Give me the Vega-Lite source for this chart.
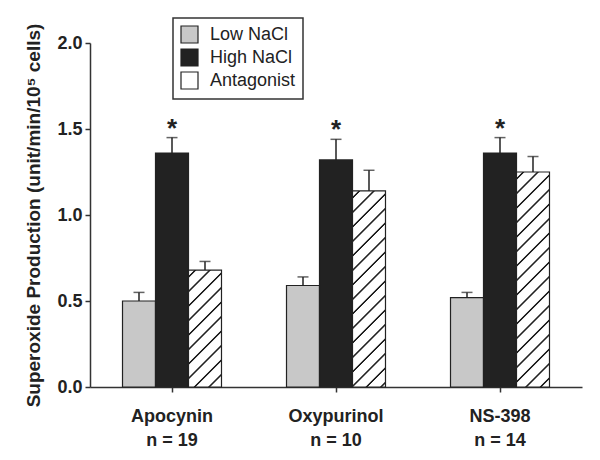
{
  "$schema": "https://vega.github.io/schema/vega-lite/v6.json",
  "width": 492,
  "height": 344,
  "autosize": {"type": "none"},
  "padding": {"left": 90, "top": 43, "right": 18, "bottom": 73},
  "background": "white",
  "config": {
    "view": {"stroke": null},
    "font": "Liberation Sans",
    "axis": {"domainColor": "#333", "domainWidth": 1.5, "tickColor": "#333", "tickWidth": 1.5, "tickSize": 5, "labelFont": "Liberation Sans", "labelFontWeight": "bold", "labelFontSize": 18, "labelColor": "#222", "titleFont": "Liberation Sans", "titleFontWeight": "bold", "titleFontSize": 19, "titleColor": "#222", "grid": false}
  },
  "data": {
    "values": [
      {"group": "Apocynin|n = 19", "cond": "Low NaCl", "mean": 0.50, "hi": 0.55, "star": ""},
      {"group": "Apocynin|n = 19", "cond": "High NaCl", "mean": 1.36, "hi": 1.45, "star": "*"},
      {"group": "Apocynin|n = 19", "cond": "Antagonist", "mean": 0.68, "hi": 0.73, "star": ""},
      {"group": "Oxypurinol|n = 10", "cond": "Low NaCl", "mean": 0.59, "hi": 0.64, "star": ""},
      {"group": "Oxypurinol|n = 10", "cond": "High NaCl", "mean": 1.32, "hi": 1.44, "star": "*"},
      {"group": "Oxypurinol|n = 10", "cond": "Antagonist", "mean": 1.14, "hi": 1.26, "star": ""},
      {"group": "NS-398|n = 14", "cond": "Low NaCl", "mean": 0.52, "hi": 0.55, "star": ""},
      {"group": "NS-398|n = 14", "cond": "High NaCl", "mean": 1.36, "hi": 1.45, "star": "*"},
      {"group": "NS-398|n = 14", "cond": "Antagonist", "mean": 1.25, "hi": 1.34, "star": ""}
    ]
  },
  "encoding": {
    "x": {
      "field": "group", "type": "nominal", "sort": null,
      "scale": {"paddingInner": 0, "paddingOuter": 0},
      "axis": {"title": null, "labelAngle": 0, "labelExpr": "split(datum.label, '|')", "labelLineHeight": 24, "labelPadding": 15, "labelBaseline": "top"}
    },
    "xOffset": {
      "field": "cond", "type": "nominal",
      "scale": {"domain": ["Low NaCl", "High NaCl", "Antagonist"], "paddingInner": 0, "paddingOuter": 0.985}
    }
  },
  "layer": [
    {
      "mark": {"type": "bar", "stroke": "#222", "strokeWidth": 1.2},
      "encoding": {
        "y": {
          "field": "mean", "type": "quantitative",
          "scale": {"domain": [0, 2], "nice": false},
          "axis": {"title": "Superoxide Production (unit/min/10⁵ cells)", "values": [0, 0.5, 1, 1.5, 2], "format": ".1f", "labelPadding": 3, "titlePadding": 13}
        },
        "fill": {
          "field": "cond", "type": "nominal",
          "scale": {"domain": ["Low NaCl", "High NaCl", "Antagonist"], "range": ["#c8c8c8", "#222222", "#ffffff"]},
          "legend": {
            "title": null, "orient": "none", "legendX": 83, "legendY": -25,
            "symbolType": "square", "symbolSize": 289, "symbolStrokeColor": "#222", "symbolStrokeWidth": 1.2,
            "labelFont": "Liberation Sans", "labelFontSize": 18, "labelColor": "#222", "labelOffset": 11,
            "rowPadding": 0, "padding": 7, "strokeColor": "#333",
            "encode": {
              "legend": {"update": {"strokeWidth": {"value": 1.5}}},
              "symbols": {"update": {
                "stroke": {"value": "#222"},
                "strokeWidth": {"value": 1.2},
                "fill": {
                  "condition": {"test": "datum.value === 'Antagonist'", "value": {"gradient": "linear", "x1": 0, "y1": 0, "x2": 1, "y2": 1, "stops": [
                    {"offset": 0.27, "color": "#ffffff"}, {"offset": 0.295, "color": "#111111"}, {"offset": 0.365, "color": "#111111"}, {"offset": 0.39, "color": "#ffffff"},
                    {"offset": 0.61, "color": "#ffffff"}, {"offset": 0.635, "color": "#111111"}, {"offset": 0.705, "color": "#111111"}, {"offset": 0.73, "color": "#ffffff"}
                  ]}},
                  "value": {"expr": "scale('fill', datum.value)"}
                }
              }}
            }
          },
          "condition": [
            {"test": "datum.cond === 'Antagonist' && datum.group === 'Apocynin|n = 19'", "value": {"gradient": "linear", "x1": 0, "y1": 0, "x2": 0.33508, "y2": 1.1876, "stops": [
              {"offset": 0.036, "color": "#ffffff"}, {"offset": 0.04267, "color": "#222222"}, {"offset": 0.05067, "color": "#222222"}, {"offset": 0.05733, "color": "#ffffff"},
              {"offset": 0.13267, "color": "#ffffff"}, {"offset": 0.13933, "color": "#222222"}, {"offset": 0.14733, "color": "#222222"}, {"offset": 0.154, "color": "#ffffff"},
              {"offset": 0.22933, "color": "#ffffff"}, {"offset": 0.236, "color": "#222222"}, {"offset": 0.244, "color": "#222222"}, {"offset": 0.25067, "color": "#ffffff"},
              {"offset": 0.326, "color": "#ffffff"}, {"offset": 0.33267, "color": "#222222"}, {"offset": 0.34067, "color": "#222222"}, {"offset": 0.34733, "color": "#ffffff"},
              {"offset": 0.42267, "color": "#ffffff"}, {"offset": 0.42933, "color": "#222222"}, {"offset": 0.43733, "color": "#222222"}, {"offset": 0.444, "color": "#ffffff"},
              {"offset": 0.51933, "color": "#ffffff"}, {"offset": 0.526, "color": "#222222"}, {"offset": 0.534, "color": "#222222"}, {"offset": 0.54067, "color": "#ffffff"},
              {"offset": 0.616, "color": "#ffffff"}, {"offset": 0.62267, "color": "#222222"}, {"offset": 0.63067, "color": "#222222"}, {"offset": 0.63733, "color": "#ffffff"},
              {"offset": 0.71267, "color": "#ffffff"}, {"offset": 0.71933, "color": "#222222"}, {"offset": 0.72733, "color": "#222222"}, {"offset": 0.734, "color": "#ffffff"},
              {"offset": 0.80933, "color": "#ffffff"}, {"offset": 0.816, "color": "#222222"}, {"offset": 0.824, "color": "#222222"}, {"offset": 0.83067, "color": "#ffffff"},
              {"offset": 0.906, "color": "#ffffff"}, {"offset": 0.91267, "color": "#222222"}, {"offset": 0.92067, "color": "#222222"}, {"offset": 0.92733, "color": "#ffffff"}
            ]}},
            {"test": "datum.cond === 'Antagonist' && datum.group === 'Oxypurinol|n = 10'", "value": {"gradient": "linear", "x1": 0, "y1": 0, "x2": 0.19121, "y2": 1.13613, "stops": [
              {"offset": 0.02357, "color": "#ffffff"}, {"offset": 0.02794, "color": "#222222"}, {"offset": 0.03318, "color": "#222222"}, {"offset": 0.03754, "color": "#ffffff"},
              {"offset": 0.08687, "color": "#ffffff"}, {"offset": 0.09123, "color": "#222222"}, {"offset": 0.09647, "color": "#222222"}, {"offset": 0.10084, "color": "#ffffff"},
              {"offset": 0.15016, "color": "#ffffff"}, {"offset": 0.15453, "color": "#222222"}, {"offset": 0.15977, "color": "#222222"}, {"offset": 0.16413, "color": "#ffffff"},
              {"offset": 0.21346, "color": "#ffffff"}, {"offset": 0.21783, "color": "#222222"}, {"offset": 0.22307, "color": "#222222"}, {"offset": 0.22743, "color": "#ffffff"},
              {"offset": 0.27676, "color": "#ffffff"}, {"offset": 0.28112, "color": "#222222"}, {"offset": 0.28636, "color": "#222222"}, {"offset": 0.29073, "color": "#ffffff"},
              {"offset": 0.34006, "color": "#ffffff"}, {"offset": 0.34442, "color": "#222222"}, {"offset": 0.34966, "color": "#222222"}, {"offset": 0.35403, "color": "#ffffff"},
              {"offset": 0.40335, "color": "#ffffff"}, {"offset": 0.40772, "color": "#222222"}, {"offset": 0.41296, "color": "#222222"}, {"offset": 0.41732, "color": "#ffffff"},
              {"offset": 0.46665, "color": "#ffffff"}, {"offset": 0.47101, "color": "#222222"}, {"offset": 0.47625, "color": "#222222"}, {"offset": 0.48062, "color": "#ffffff"},
              {"offset": 0.52995, "color": "#ffffff"}, {"offset": 0.53431, "color": "#222222"}, {"offset": 0.53955, "color": "#222222"}, {"offset": 0.54392, "color": "#ffffff"},
              {"offset": 0.59324, "color": "#ffffff"}, {"offset": 0.59761, "color": "#222222"}, {"offset": 0.60285, "color": "#222222"}, {"offset": 0.60721, "color": "#ffffff"},
              {"offset": 0.65654, "color": "#ffffff"}, {"offset": 0.6609, "color": "#222222"}, {"offset": 0.66614, "color": "#222222"}, {"offset": 0.67051, "color": "#ffffff"},
              {"offset": 0.71984, "color": "#ffffff"}, {"offset": 0.7242, "color": "#222222"}, {"offset": 0.72944, "color": "#222222"}, {"offset": 0.7338, "color": "#ffffff"},
              {"offset": 0.78313, "color": "#ffffff"}, {"offset": 0.7875, "color": "#222222"}, {"offset": 0.79274, "color": "#222222"}, {"offset": 0.7971, "color": "#ffffff"},
              {"offset": 0.84643, "color": "#ffffff"}, {"offset": 0.85079, "color": "#222222"}, {"offset": 0.85603, "color": "#222222"}, {"offset": 0.8604, "color": "#ffffff"},
              {"offset": 0.90973, "color": "#ffffff"}, {"offset": 0.91409, "color": "#222222"}, {"offset": 0.91933, "color": "#222222"}, {"offset": 0.9237, "color": "#ffffff"},
              {"offset": 0.97302, "color": "#ffffff"}, {"offset": 0.97739, "color": "#222222"}, {"offset": 0.98263, "color": "#222222"}, {"offset": 0.98699, "color": "#ffffff"}
            ]}},
            {"test": "datum.cond === 'Antagonist' && datum.group === 'NS-398|n = 14'", "value": {"gradient": "linear", "x1": 0, "y1": 0, "x2": 0.17297, "y2": 1.12693, "stops": [
              {"offset": 0.02177, "color": "#ffffff"}, {"offset": 0.02581, "color": "#222222"}, {"offset": 0.03065, "color": "#222222"}, {"offset": 0.03468, "color": "#ffffff"},
              {"offset": 0.08024, "color": "#ffffff"}, {"offset": 0.08427, "color": "#222222"}, {"offset": 0.08911, "color": "#222222"}, {"offset": 0.09315, "color": "#ffffff"},
              {"offset": 0.13871, "color": "#ffffff"}, {"offset": 0.14274, "color": "#222222"}, {"offset": 0.14758, "color": "#222222"}, {"offset": 0.15161, "color": "#ffffff"},
              {"offset": 0.19718, "color": "#ffffff"}, {"offset": 0.20121, "color": "#222222"}, {"offset": 0.20605, "color": "#222222"}, {"offset": 0.21008, "color": "#ffffff"},
              {"offset": 0.25565, "color": "#ffffff"}, {"offset": 0.25968, "color": "#222222"}, {"offset": 0.26452, "color": "#222222"}, {"offset": 0.26855, "color": "#ffffff"},
              {"offset": 0.31411, "color": "#ffffff"}, {"offset": 0.31815, "color": "#222222"}, {"offset": 0.32298, "color": "#222222"}, {"offset": 0.32702, "color": "#ffffff"},
              {"offset": 0.37258, "color": "#ffffff"}, {"offset": 0.37661, "color": "#222222"}, {"offset": 0.38145, "color": "#222222"}, {"offset": 0.38548, "color": "#ffffff"},
              {"offset": 0.43105, "color": "#ffffff"}, {"offset": 0.43508, "color": "#222222"}, {"offset": 0.43992, "color": "#222222"}, {"offset": 0.44395, "color": "#ffffff"},
              {"offset": 0.48952, "color": "#ffffff"}, {"offset": 0.49355, "color": "#222222"}, {"offset": 0.49839, "color": "#222222"}, {"offset": 0.50242, "color": "#ffffff"},
              {"offset": 0.54798, "color": "#ffffff"}, {"offset": 0.55202, "color": "#222222"}, {"offset": 0.55685, "color": "#222222"}, {"offset": 0.56089, "color": "#ffffff"},
              {"offset": 0.60645, "color": "#ffffff"}, {"offset": 0.61048, "color": "#222222"}, {"offset": 0.61532, "color": "#222222"}, {"offset": 0.61935, "color": "#ffffff"},
              {"offset": 0.66492, "color": "#ffffff"}, {"offset": 0.66895, "color": "#222222"}, {"offset": 0.67379, "color": "#222222"}, {"offset": 0.67782, "color": "#ffffff"},
              {"offset": 0.72339, "color": "#ffffff"}, {"offset": 0.72742, "color": "#222222"}, {"offset": 0.73226, "color": "#222222"}, {"offset": 0.73629, "color": "#ffffff"},
              {"offset": 0.78185, "color": "#ffffff"}, {"offset": 0.78589, "color": "#222222"}, {"offset": 0.79073, "color": "#222222"}, {"offset": 0.79476, "color": "#ffffff"},
              {"offset": 0.84032, "color": "#ffffff"}, {"offset": 0.84435, "color": "#222222"}, {"offset": 0.84919, "color": "#222222"}, {"offset": 0.85323, "color": "#ffffff"},
              {"offset": 0.89879, "color": "#ffffff"}, {"offset": 0.90282, "color": "#222222"}, {"offset": 0.90766, "color": "#222222"}, {"offset": 0.91169, "color": "#ffffff"},
              {"offset": 0.95726, "color": "#ffffff"}, {"offset": 0.96129, "color": "#222222"}, {"offset": 0.96613, "color": "#222222"}, {"offset": 0.97016, "color": "#ffffff"}
            ]}}
          ]
        }
      }
    },
    {
      "mark": {"type": "rule", "color": "#222", "strokeWidth": 1.5},
      "encoding": {"y": {"field": "mean", "type": "quantitative"}, "y2": {"field": "hi"}}
    },
    {
      "mark": {"type": "tick", "color": "#222", "size": 11, "thickness": 1.5, "orient": "horizontal"},
      "encoding": {"y": {"field": "hi", "type": "quantitative"}}
    },
    {
      "mark": {"type": "text", "font": "Liberation Sans", "fontWeight": "bold", "fontSize": 26, "color": "#222", "baseline": "alphabetic", "dy": -1},
      "encoding": {"y": {"field": "hi", "type": "quantitative"}, "text": {"field": "star"}}
    }
  ]
}
